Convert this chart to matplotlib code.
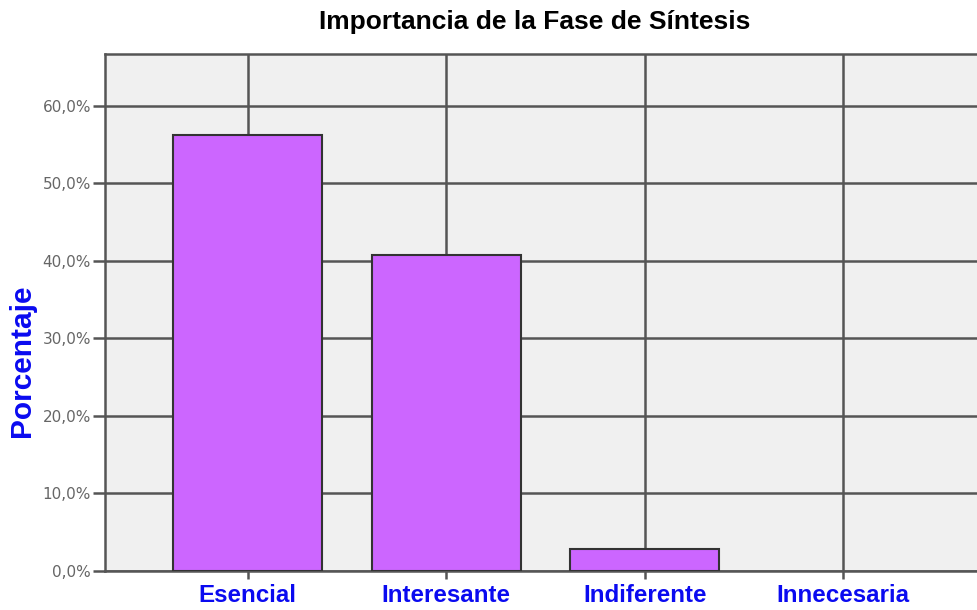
import matplotlib.pyplot as plt
import numpy as np

categories = ['Esencial', 'Interesante', 'Indiferente', 'Innecesaria']
percentages = [56.3, 40.8, 2.9, 0.0]
yticks = [0, 10, 20, 30, 40, 50, 60]
ytick_labels = ['0,0%', '10,0%', '20,0%', '30,0%', '40,0%', '50,0%', '60,0%']

grid_col = '#555555'
bar_col = '#cc66ff'
blue = '#0a0af0'

fig = plt.figure(figsize=(9.77, 6.1), dpi=100)
ax = fig.add_axes([105 / 977, 39 / 610, 1 - 105 / 977 + 0.001, 517 / 610])
ax.set_facecolor('#f0f0f0')

x = np.arange(len(categories))
ax.set_axisbelow(True)
ax.grid(True, color=grid_col, linewidth=1.8)
# empty categories get no outline, as in the original
edge_w = [1.5 if p > 0 else 0 for p in percentages]
ax.bar(x, percentages, width=0.75, color=bar_col, edgecolor='#333333', linewidth=edge_w, zorder=3)

ax.set_xlim(-0.72, 3.68)
ax.set_ylim(0, 66.7)
ax.set_xticks(x)
ax.set_xticklabels(categories, fontsize=17.4, fontweight='bold', color=blue,
                   family='Liberation Sans')
ax.set_yticks(yticks)
ax.set_yticklabels(ytick_labels, fontsize=11, color='#666666', family='DejaVu Sans')
ax.tick_params(axis='y', length=9, width=1.8, color=grid_col, pad=1)
ax.tick_params(axis='x', length=6, width=1.8, color=grid_col, pad=3)

for side in ['left', 'top', 'bottom']:
    ax.spines[side].set_color(grid_col)
    ax.spines[side].set_linewidth(1.8)
ax.spines['right'].set_visible(False)

fig.text(535 / 977, 1 - 22 / 610, 'Importancia de la Fase de Síntesis', ha='center', va='center',
         fontsize=19, fontweight='bold', family='Liberation Sans')
fig.text(22 / 977, 1 - 361 / 610, 'Porcentaje', rotation=90, ha='center', va='center',
         fontsize=21.5, fontweight='bold', color=blue, family='Liberation Sans')

fig.savefig('out.png', dpi=100, facecolor='white')
